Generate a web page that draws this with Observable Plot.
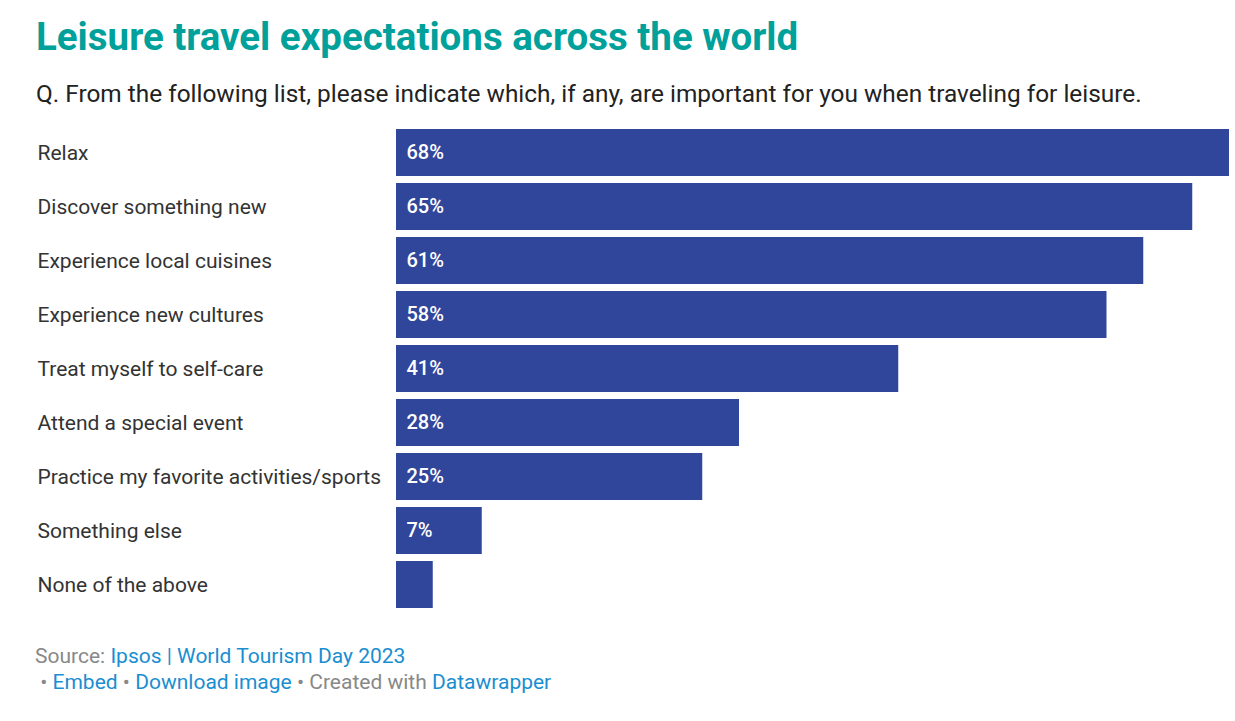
<!DOCTYPE html>
<html>
<head>
<meta charset="utf-8">
<script src="https://cdn.jsdelivr.net/npm/d3@7"></script>
<script src="https://cdn.jsdelivr.net/npm/@observablehq/plot@0.6"></script>
<style>
  html, body { margin: 0; padding: 0; background: #fff; }
  body { width: 1235px; height: 721px; position: relative; font-family: Roboto, "Noto Sans", sans-serif; overflow: hidden; }
  #title { position: absolute; left: 36px; top: 14px; font-size: 38.5px; font-weight: 700; color: #00a09b; white-space: nowrap; line-height: 1.2; }
  #subtitle { position: absolute; left: 36px; top: 79px; font-size: 24.4px; color: #222; white-space: nowrap; line-height: 1.2; }
  #chart { position: absolute; left: 0; top: 118px; }
  #footer { position: absolute; left: 35px; top: 643px; font-size: 21px; color: #888; line-height: 26px; white-space: nowrap; }
  #footer a { color: #1a8ed1; text-decoration: none; }
</style>
</head>
<body>
<div id="title">Leisure travel expectations across the world</div>
<div id="subtitle">Q. From the following list, please indicate which, if any, are important for you when traveling for leisure.</div>
<div id="chart"></div>
<div id="footer">Source: <a>Ipsos | World Tourism Day 2023</a><br>&nbsp;• <a>Embed</a> • <a>Download image</a> • Created with <a>Datawrapper</a></div>
<script>
const categories = [
  "Relax",
  "Discover something new",
  "Experience local cuisines",
  "Experience new cultures",
  "Treat myself to self-care",
  "Attend a special event",
  "Practice my favorite activities/sports",
  "Something else",
  "None of the above"
];
const values = [68, 65, 61, 58, 41, 28, 25, 7, 3];
const valueLabels = ["68%", "65%", "61%", "58%", "41%", "28%", "25%", "7%", ""];

const data = categories.map((c, i) => ({category: c, value: values[i], label: valueLabels[i]}));

const chart = Plot.plot({
  width: 1235,
  height: 500,
  marginLeft: 396,
  marginRight: 6,
  marginTop: 10,
  marginBottom: 10,
  style: {fontFamily: "Roboto, 'Noto Sans', sans-serif", background: "transparent"},
  x: {domain: [0, 68], axis: null},
  y: {domain: categories, axis: null, paddingInner: 0.13, paddingOuter: 0},
  marks: [
    Plot.barX(data, {x: "value", y: "category", fill: "#30469b"}),
    Plot.text(data, {x: 0, y: "category", text: "category", textAnchor: "start", dx: -359, fill: "#333", fontSize: 21}),
    Plot.text(data, {x: 0, y: "category", text: "label", textAnchor: "start", dx: 10, fill: "#fff", fontSize: 20, fontWeight: 500})
  ]
});
document.getElementById("chart").appendChild(chart);
</script>
</body>
</html>
